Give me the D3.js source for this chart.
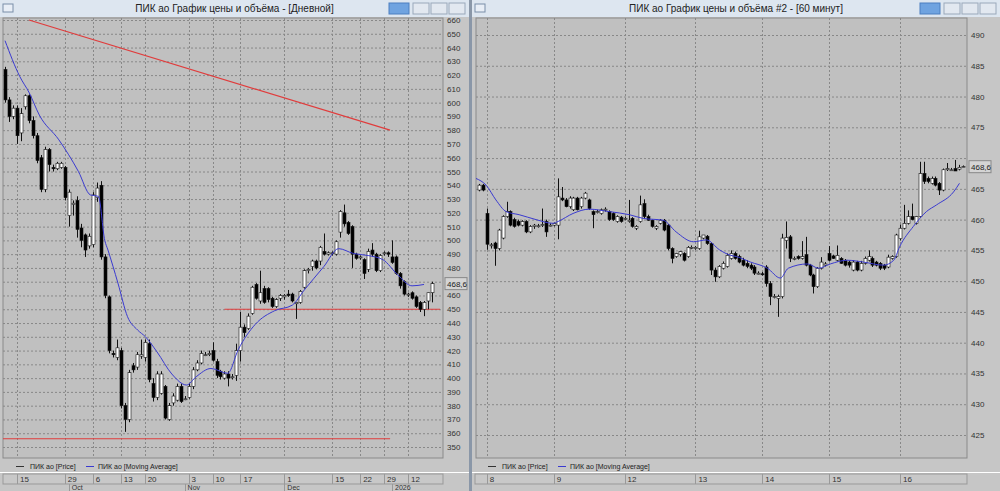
<!DOCTYPE html>
<html><head><meta charset="utf-8">
<script src="https://cdn.jsdelivr.net/npm/d3@7"></script>
<style>body{margin:0;background:#c9d3df;overflow:hidden}svg{display:block}text{font-family:"Liberation Sans",Arial,sans-serif}</style>
</head><body><svg id="c" width="1000" height="491"></svg>
<script>
// ---------- daily panel data ----------
const dayO=[624,602,590,596,578,597,605,587,576,560,537,566,553,552,553,553,518,526,529,509,504,496,497,531,540,488,459,418,415,420,380,370,409,408,416,415,425,396,386,389,394,370,382,384,394,385,386,394,406,411,417,417,420,412,405,400,403,401,402,
420,437,436,447,468,456,465,465,458,452,458,459,461,461,454,455,466,478,481,485,485,492,490,491,490,506,520,513,510,490,488,486,479,493,490,478,491,491,488,488,476,470,461,462,459,455,450,456,462];
const dayH=[626,604,598,598,596,606,606,590,578,562,568,567,555,557,557,554,537,529,532,512,505,505,535,542,543,490,460,420,428,422,382,406,411,419,428,428,428,400,405,405,395,382,389,396,396,387,396,408,413,420,419,420,426,414,406,405,405,403,425,
448,439,447,467,469,478,467,466,459,458,461,461,464,462,455,464,479,480,486,486,496,505,492,492,500,522,526,514,511,491,489,487,494,498,491,490,492,492,500,489,477,471,462,463,460,456,456,462,470];
const dayL=[600,586,588,570,572,595,585,574,556,535,535,550,550,551,552,529,510,518,502,495,488,494,495,528,486,458,418,415,413,378,361,368,404,406,414,412,397,383,384,388,370,369,380,383,382,384,385,392,405,410,416,416,412,400,399,399,394,399,398,
412,430,435,446,457,454,454,455,451,451,456,457,459,455,443,454,465,476,478,479,482,489,489,489,489,502,510,504,480,486,486,472,477,488,477,477,489,488,483,475,465,460,459,457,451,448,445,450,455];
const dayC=[602,590,596,576,592,605,587,576,558,537,566,555,552,556,556,531,535,527,508,500,493,503,533,538,488,460,420,417,422,380,370,404,406,417,417,426,399,386,403,403,371,380,387,394,383,385,394,406,411,418,417,418,413,402,401,403,400,401,420,
437,433,445,466,458,462,455,457,452,457,460,460,460,456,455,463,478,479,485,480,495,490,491,491,499,521,512,505,490,487,488,476,492,490,478,489,491,490,484,476,467,461,461,458,452,450,455,462,468.6];
const dayMaIdx=[0,3.7,6.1,8.6,13.5,18.4,21.4,23.4,25,25.8,28.3,30.7,33.2,35.2,38.1,41.8,45.5,47.9,51.6,55.8,58.5,62.7,67.6,72,75,79.9,83.6,87.3,91,94.7,98.4,102,105];
const dayMaVal=[645,619,607,591,573,550,533,532,500,493,469,444.6,435,430,419,403,395,401,407,403.5,421,439,449,453,464,481,494,490.5,489,486,475,467,468];
const dayTickIdx=[3,15,22,29,35,46,52,59,70,82,89,95,101];
const dayTickLbl=["15","29","6","13","20","3","10","17","1","15","22","29","12"];
const dayMonIdx=[16,45,70,97];
const dayMonLbl=["Oct","Nov","Dec","2026"];
const dayYTicks=d3.range(350,661,10);
const dayRedLines=[{i1:6,v1:660,i2:96.5,v2:580},{i1:55,v1:450,i2:109,v2:450},{i1:-1,v1:356,i2:96.5,v2:356}];

// ---------- hourly panel data ----------
const hrO=[464.8,465.6,461,455.9,456.2,455.3,457,460.5,461.3,460,459.7,459.1,459.7,458,458.9,459,459.1,459.7,459.1,459.1,459.1,463.5,463.2,462.1,461.6,463.5,462.1,463.5,463.2,461.3,461.3,461,461.6,461.3,461,459.7,460.4,460.2,459.7,460.2,458.6,459.7,462.6,460.5,459.9,458.6,459.4,459.9,459.1,455.3,454,454.3,454.5,454,455.5,455.3,455.3,457,457.3,456.1,451.8,450.7,452.1,452.4,453.7,454.5,
454,453.4,452.9,452.6,452.3,451.3,451.2,452.3,449.6,447.5,447.2,447.5,456.6,457.2,453.7,454,453.7,454.3,452.6,451,449.1,452.1,452.6,454.5,454.1,453.4,453.7,453.4,453.1,451.8,453.1,451.8,452.9,453.4,453.7,453.1,452.9,452.6,452.3,453.7,454,456.9,458.6,459.4,460.5,459.4,460.5,467.5,466.7,465.9,466.7,465.9,464.8,468.1,468.1,468.3,468.2,468.6];
const hrH=[465.8,465.8,461.8,456.2,456.4,458.5,460.7,462.9,461.5,460.3,460,459.9,459.9,459.1,459.3,459.3,461.8,460,459.4,459.5,466.7,465.3,463.5,463.8,463.7,463.7,463.7,464.5,463.4,461.5,461.6,461.8,462,461.5,461.2,460.7,460.6,460.5,463.2,460.4,459.1,463.9,463.3,460.8,460,459.1,460.1,460.1,459.3,455.5,454.6,454.9,454.7,455.7,455.8,455.7,458.2,457.5,457.5,456.3,452.2,452.6,453.2,454.5,455,454.8,
454.3,453.8,453.4,452.9,452.6,451.6,451.5,452.6,450,447.9,447.8,457.7,459.7,457.5,454,454.2,456.5,457.2,452.8,451.2,452.3,453.9,453.1,455.7,454.3,455.8,453.9,453.6,453.3,453.4,453.3,453.3,454,455,454,453.3,453.1,452.8,454.3,454.2,457.7,459.2,462.4,461.5,462.6,460.6,469.4,469.4,467,467,467,466.1,468.3,469.2,468.4,469.7,468.9,468.8];
const hrL=[464.6,464.6,455.1,455.3,452.5,455,456.8,460.3,458.9,458.7,458.9,458.9,457.8,457.8,458.5,458.7,458.8,457.2,458.9,458.9,456.8,463,462,461.8,461.4,461.5,461.8,463.3,461.6,458.6,461,460.8,461.3,459.8,459.8,459.5,459.5,459.9,459.5,458.7,458.3,459.5,460.2,459.8,458.7,458.3,459.2,458.1,455,452.9,453.8,454,453.2,453.8,455.2,455.1,455.1,456.8,455.9,451,449.9,450.5,451.9,452.2,453.5,453.5,
452.9,452.4,452.1,451.8,451,451.1,450.9,449.1,446.1,447.2,444.2,447.2,455.3,453.1,453.4,453.5,453.5,452.4,450.8,448,448.9,451.9,452.4,453.2,453.6,453.2,452.8,452.4,452.2,451.6,451.6,451.6,452.7,453.2,452.3,452.4,451.8,451.8,452.1,453.5,453.8,456.6,458.4,459.2,459.9,459.2,460.3,465.8,465.9,465.7,465.4,464,464.6,467.9,467.9,467.9,468,468.5];
const hrC=[465.6,464.8,456,455.9,455.3,458.3,460.5,461.3,459.1,458.9,459.1,459.7,458,458.9,459.1,459,459.2,458,459.1,459.4,463.7,463.2,462.1,463.5,463.5,461.6,463.5,464.3,461.8,460.8,461.3,461.6,461.7,460,460,460.5,459.7,460.2,459.9,458.9,458.9,462.4,460.5,459.9,458.9,458.9,459.9,458.3,455.3,453.7,454.5,454.8,453.4,455.5,455.5,455.5,457.2,457.5,456.1,451.8,450.7,452.4,452.9,454.2,454.5,453.7,
453.1,452.6,452.4,452.1,451.3,451.3,451.1,449.6,447.5,447.5,447.5,457,457.1,453.7,453.7,453.7,454,452.6,451,449.1,452.1,453.1,452.8,453.4,453.7,454.2,452.9,452.6,452.6,453.1,451.8,452.9,453.7,454,452.6,452.6,452.1,452.1,453.9,454,457.5,458.6,459.4,460.5,460,460.5,467.5,466.2,466.2,466.7,465.6,464.8,468.1,468.3,468.1,467.9,468.5,468.6];
const hrMaIdx=[-0.8,1.8,4.3,6.9,10.2,14.5,18.8,20.1,23.9,28,33.1,38.2,41.7,46.8,50.1,54.5,57.8,61.1,63.9,65.4,69,73.3,76.6,78.6,83.5,86.3,89.3,93.6,97.7,102.8,105.4,106.9,110.4,113.7,116.3,120.6,122.1];
const hrMaVal=[466.7,465.6,463.2,461.3,460.8,460,459.4,459.7,461,461.7,461.3,460.8,460.2,459.9,458,456.4,456.7,455.1,454.2,454,453.1,452.1,450.5,452.1,452.8,452.1,452.8,453.4,453.1,452.6,453.4,455.6,458.9,461.3,462.4,464.5,465.9];
const hrTickIdx=[2,19,37,55,72,89,107];
const hrTickLbl=["8","9","12","13","14","15","16"];
const hrYTicks=d3.range(425,491,5);

const svg=d3.select("#c");

function panel(o){
  const g=svg.append("g");
  g.append("rect").attr("x",o.wx).attr("y",0).attr("width",o.ww).attr("height",491).attr("fill","#c6c6c6");
  g.append("rect").attr("x",o.wx).attr("y",0).attr("width",o.ww).attr("height",17).attr("fill","#dde6f0");
  g.append("text").attr("x",o.wx+o.ww/2).attr("y",12).attr("text-anchor","middle").attr("font-size",10).attr("fill","#222").text(o.title);
  g.append("rect").attr("x",o.wx+3).attr("y",4).attr("width",10).attr("height",8).attr("fill","#e8eef6").attr("stroke","#7a8ea8");
  const bx=o.wx+o.ww-80;
  g.append("rect").attr("x",bx).attr("y",3).attr("width",20).attr("height",11).attr("fill","#6fa3e0").attr("stroke","#4c7fc0");
  [0,1,2].forEach(k=>g.append("rect").attr("x",bx+24+k*18).attr("y",3).attr("width",16).attr("height",11).attr("fill","#e2e8f0").attr("stroke","#9aa8ba"));
  const x=d3.scaleLinear().domain([0,o.n-1]).range([o.cx0,o.cx1]);
  const y=d3.scaleLinear().domain(o.yd).range(o.yr);
  const pl=o.px0, pr=o.px1, pt=18, pb=458;
  g.append("rect").attr("x",pl).attr("y",pt).attr("width",pr-pl).attr("height",pb-pt).attr("fill","#c0c0c0").attr("stroke","#8a8a8a");
  const clip="cl"+o.wx;
  svg.append("clipPath").attr("id",clip).append("rect").attr("x",pl).attr("y",pt).attr("width",pr-pl).attr("height",pb-pt);
  const gp=g.append("g").attr("clip-path","url(#"+clip+")");
  gp.selectAll(".hg").data(o.yticks).join("line").attr("x1",pl).attr("x2",pr).attr("y1",d=>y(d)+.5).attr("y2",d=>y(d)+.5).attr("stroke","#888").attr("stroke-dasharray","2,2");
  gp.selectAll(".vg").data(o.tickIdx).join("line").attr("y1",pt).attr("y2",pb).attr("x1",d=>Math.round(x(d))+.5).attr("x2",d=>Math.round(x(d))+.5).attr("stroke","#888").attr("stroke-dasharray","2,2");
  (o.red||[]).forEach(r=>gp.append("line").attr("x1",x(r.i1)).attr("y1",y(r.v1)).attr("x2",x(r.i2)).attr("y2",y(r.v2)).attr("stroke","#e03c3c").attr("stroke-width",1.2));
  const idx=d3.range(o.n);
  gp.selectAll(".wk").data(idx).join("line").attr("x1",i=>Math.round(x(i))+.5).attr("x2",i=>Math.round(x(i))+.5).attr("y1",i=>y(o.H[i])).attr("y2",i=>y(o.L[i])).attr("stroke","#111");
  gp.selectAll(".bd").data(idx).join("rect").attr("x",i=>Math.round(x(i))-1).attr("width",3)
    .attr("y",i=>y(Math.max(o.O[i],o.C[i]))).attr("height",i=>Math.max(1,Math.abs(y(o.O[i])-y(o.C[i]))))
    .attr("fill",i=>o.C[i]>=o.O[i]?"#fff":"#000").attr("stroke","#111").attr("stroke-width",0.6);
  gp.append("path").datum(d3.zip(o.maI,o.maV)).attr("d",d3.line().x(d=>x(d[0])).y(d=>y(d[1])).curve(d3.curveMonotoneX)).attr("fill","none").attr("stroke","#3a3ad0").attr("stroke-width",1);
  const last=o.C[o.n-1];
  const ly=y(last);
  g.selectAll(".yl").data(o.yticks.filter(d=>Math.abs(y(d)-ly)>9)).join("text").attr("x",pr+4).attr("y",d=>y(d)+3).attr("font-size",8).attr("fill","#333").text(d=>d);
  g.append("rect").attr("x",pr+2).attr("y",ly-6).attr("width",22).attr("height",12).attr("fill","#d4d4d4").attr("stroke","#888");
  g.append("text").attr("x",pr+4).attr("y",ly+3).attr("font-size",8).attr("fill","#222").text(String(last).replace(".",","));
  g.append("line").attr("x1",o.wx+16).attr("x2",o.wx+24).attr("y1",466.5).attr("y2",466.5).attr("stroke","#333");
  g.append("text").attr("x",o.wx+30).attr("y",469).attr("font-size",7).attr("fill","#222").text("ПИК ао [Price]");
  g.append("line").attr("x1",o.wx+86).attr("x2",o.wx+94).attr("y1",466.5).attr("y2",466.5).attr("stroke","#3a3ad0");
  g.append("text").attr("x",o.wx+98).attr("y",469).attr("font-size",7).attr("fill","#222").text("ПИК ао [Moving Average]");
  g.append("rect").attr("x",o.wx).attr("y",472).attr("width",o.ww).attr("height",1).attr("fill","#fff");
  g.append("rect").attr("x",o.wx+3).attr("y",474).attr("width",pr-o.wx-3).attr("height",10).attr("fill","#c8c8c8").attr("stroke","#999");
  g.selectAll(".tk").data(o.tickIdx).join("line").attr("x1",d=>Math.round(x(d))+.5).attr("x2",d=>Math.round(x(d))+.5).attr("y1",474).attr("y2",484).attr("stroke","#999");
  g.selectAll(".tl").data(o.tickIdx).join("text").attr("x",d=>x(d)+3).attr("y",482).attr("font-size",8).attr("fill","#333").text((d,i)=>o.tickLbl[i]);
  if(o.monIdx){
    g.selectAll(".ml").data(o.monIdx).join("line").attr("x1",d=>Math.round(x(d))+.5).attr("x2",d=>Math.round(x(d))+.5).attr("y1",484).attr("y2",491).attr("stroke","#999");
    g.selectAll(".mt").data(o.monIdx).join("text").attr("x",d=>x(d)+3).attr("y",490).attr("font-size",7).attr("fill","#333").text((d,i)=>o.monLbl[i]);
  }
}

panel({wx:0,ww:469,title:"ПИК ао График цены и объёма - [Дневной]",n:dayC.length,cx0:5,cx1:432,px0:3,px1:443,
  yd:[350,660],yr:[447,20],yticks:dayYTicks,O:dayO,H:dayH,L:dayL,C:dayC,maI:dayMaIdx,maV:dayMaVal,
  tickIdx:dayTickIdx,tickLbl:dayTickLbl,monIdx:dayMonIdx,monLbl:dayMonLbl,red:dayRedLines});
svg.append("rect").attr("x",469).attr("y",0).attr("width",3).attr("height",491).attr("fill","#8a97a8");
panel({wx:472,ww:528,title:"ПИК ао График цены и объёма #2 - [60 минут]",n:hrC.length,cx0:479,cx1:963,px0:476,px1:967,
  yd:[425,490],yr:[435,35],yticks:hrYTicks,O:hrO,H:hrH,L:hrL,C:hrC,maI:hrMaIdx,maV:hrMaVal,
  tickIdx:hrTickIdx,tickLbl:hrTickLbl});
</script></body></html>
